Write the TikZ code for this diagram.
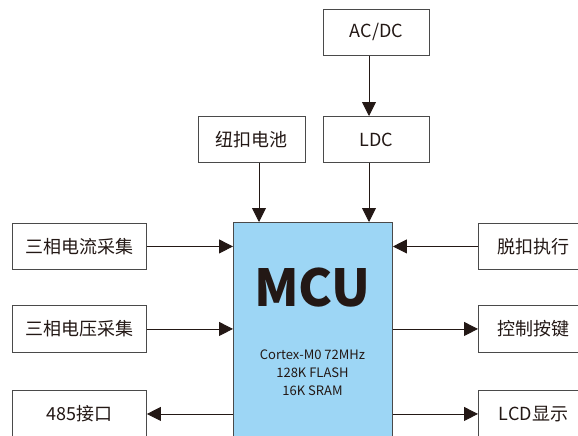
\documentclass[tikz,border=0pt]{standalone}
\usepackage{fontspec}
\setmainfont{Noto Sans CJK SC}
\usetikzlibrary{arrows.meta}
\definecolor{ink}{HTML}{231815}
\definecolor{mcublue}{HTML}{9DD6F5}
\definecolor{edge}{HTML}{4A4A4A}
\tikzset{
  blk/.style={draw=edge, line width=0.9pt, fill=white, text=ink, font=\fontsize{18}{21}\selectfont, inner sep=0pt, anchor=north west},
  conn/.style={draw=ink, line width=0.9pt, -{Triangle[length=14pt,width=14pt]}},
}
\begin{document}
\begin{tikzpicture}[x=1pt,y=-1pt]
\useasboundingbox (0,0) rectangle (578,436);
\clip (0,0) rectangle (578,436);
% boxes
\node[blk, minimum width=106pt, minimum height=46pt] (acdc) at (323,9) {AC/DC};
\node[blk, minimum width=106pt, minimum height=46pt] (ldc) at (323,116) {LDC};
\node[blk, minimum width=107pt, minimum height=46pt] (bat) at (198,116) {纽扣电池};
\node[blk, fill=mcublue, minimum width=159pt, minimum height=240pt] (mcu) at (233,222) {};
\node[text=ink, font=\fontsize{51}{51}\selectfont\bfseries] (mcut) at (312.5,288) {MCU};
\node[text=ink, font=\fontsize{13}{18}\selectfont, align=center] (mcuinfo) at (312.5,373) {Cortex-M0 72MHz\\128K FLASH\\16K SRAM};
\node[blk, minimum width=134pt, minimum height=46pt] (ia) at (12,223) {三相电流采集};
\node[blk, minimum width=134pt, minimum height=47pt] (va) at (12,305) {三相电压采集};
\node[blk, minimum width=134pt, minimum height=47pt] (rs) at (12,390) {485接口};
\node[blk, minimum width=110pt, minimum height=46pt] (trip) at (478,223) {脱扣执行};
\node[blk, minimum width=110pt, minimum height=47pt] (key) at (478,305) {控制按键};
\node[blk, minimum width=110pt, minimum height=47pt] (lcd) at (478,390) {LCD显示};
% connector points
\coordinate (b1) at (259,162);
\coordinate (b2) at (259,222);
\coordinate (l1) at (369,162);
\coordinate (l2) at (369,222);
\coordinate (a1) at (369,55);
\coordinate (a2) at (369,116);
% connectors
\draw[conn] (acdc.south -| a1) -- (ldc.north -| a2);
\draw[conn] (bat.south -| b1) -- (mcu.north -| b2);
\draw[conn] (ldc.south -| l1) -- (mcu.north -| l2);
\draw[conn] (ia.east) -- (ia.east -| mcu.west);
\draw[conn] (va.east) -- (va.east -| mcu.west);
\draw[conn] (rs.east -| mcu.west) -- (rs.east);
\draw[conn] (trip.west) -- (trip.west -| mcu.east);
\draw[conn] (key.west -| mcu.east) -- (key.west);
\draw[conn] (lcd.west -| mcu.east) -- (lcd.west);
\end{tikzpicture}
\end{document}
